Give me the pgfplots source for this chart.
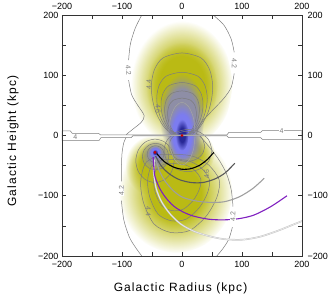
\documentclass[border=0pt]{standalone}
\usepackage{fontspec}
\setmainfont{Liberation Sans}
\newfontfamily\lblfont[LetterSpace=9]{Liberation Sans}
\usepackage{pgfplots}
\pgfplotsset{compat=1.18}
\usetikzlibrary{fadings}
\definecolor{ylw}{RGB}{186,186,20}
\definecolor{gry}{RGB}{142,142,166}
\definecolor{lav}{RGB}{124,124,240}
\definecolor{dkb}{RGB}{40,40,150}
\definecolor{cln}{RGB}{125,125,125}
\definecolor{orbpurple}{RGB}{128,32,192}
\pgfdeclareradialshading{coresh}{\pgfpoint{0bp}{0bp}}{color(0bp)=(white); color(11bp)=(white); color(25bp)=(black); color(50bp)=(black)}
\pgfdeclarefading{core}{\pgfuseshading{coresh}}
\pgfdeclareradialshading{flatsh}{\pgfpoint{0bp}{0bp}}{color(0bp)=(white); color(16bp)=(white); color(25bp)=(black); color(50bp)=(black)}
\pgfdeclarefading{flat}{\pgfuseshading{flatsh}}
\tikzset{lab/.style={font=\fontsize{7}{8}\selectfont, text=cln, inner sep=0.4pt}}
\begin{document}
\begin{tikzpicture}
\pgfplotsset{
  fy/.style={draw=none, smooth, mark=none, fill=ylw, path fading=core, fit fading=true},
  fc/.style={draw=none, smooth, mark=none, path fading=core, fit fading=true},
  ff/.style={draw=none, smooth, mark=none, path fading=flat, fit fading=true},
  cl/.style={draw=cln, line width=0.5pt, smooth, mark=none},
}
\begin{axis}[
  name=ax, at={(0,0)}, anchor=south west, scale only axis,
  width=240pt, height=241pt,
  xmin=-200, xmax=200, ymin=-200, ymax=200,
  xtick={-200,-100,0,100,200}, ytick={-200,-100,0,100,200},
  xticklabels={−200,−100,0,100,200}, yticklabels={−200,−100,0,100,200},
  minor xtick={-150,-50,50,150}, minor ytick={-150,-50,50,150},
  tick align=inside, tick pos=both,
  xticklabel pos=lower, yticklabel pos=left,
  major tick length=4pt, minor tick length=4pt,
  axis line style={black!80, line width=0.7pt},
  tick style={black!80, line width=0.6pt},
  ticklabel style={font=\fontsize{9}{10}\selectfont},
  label style={font=\lblfont\fontsize{12}{14}\selectfont},
  xlabel={Galactic Radius (kpc)}, ylabel={Galactic Height (kpc)},
  xlabel style={at={(axis description cs:0.494,-0.133)}, anchor=center},
  ylabel style={at={(axis description cs:-0.204,0.477)}, anchor=center},
  xticklabel style={yshift=-1.5pt},
  axis on top, clip=true,
]
% ---------- yellow density blobs ----------
\addplot[fy] coordinates {(85,85) (73.6,137.5) (42.5,175.9) (0,190) (-42.5,175.9) (-73.6,137.5) (-85,85) (-73.6,32.5) (-42.5,-5.9) (0,-20) (42.5,-5.9) (73.6,32.5) (85,85)};
\addplot[fy] coordinates {(60,80) (52,117.5) (30,145) (0,155) (-30,145) (-52,117.5) (-60,80) (-52,42.5) (-30,15) (0,5) (30,15) (52,42.5) (60,80)};
\addplot[fy] coordinates {(85,-95) (72.3,-45) (37.5,-8.4) (-10,5) (-57.5,-8.4) (-92.3,-45) (-105,-95) (-92.3,-145) (-57.5,-181.6) (-10,-195) (37.5,-181.6) (72.3,-145) (85,-95)};
\addplot[fy] coordinates {(-5,-50) (-11,-25) (-27.5,-6.7) (-50,0) (-72.5,-6.7) (-89,-25) (-95,-50) (-89,-75) (-72.5,-93.3) (-50,-100) (-27.5,-93.3) (-11,-75) (-5,-50)};
\addplot[fy] coordinates {(55,-30) (49,-10) (32.5,4.6) (10,10) (-12.5,4.6) (-29,-10) (-35,-30) (-29,-50) (-12.5,-64.6) (10,-70) (32.5,-64.6) (49,-50) (55,-30)};
% ---------- gray blobs ----------
\addplot[ff, fill=gry] coordinates {(38,32) (32.9,67) (19,92.6) (0,102) (-19,92.6) (-32.9,67) (-38,32) (-32.9,-3) (-19,-28.6) (0,-38) (19,-28.6) (32.9,-3) (38,32)};
\addplot[fc, fill=gry] coordinates {(-18,-33) (-21.5,-20) (-31,-10.5) (-44,-7) (-57,-10.5) (-66.5,-20) (-70,-33) (-66.5,-46) (-57,-55.5) (-44,-59) (-31,-55.5) (-21.5,-46) (-18,-33)};
\addplot[fc, fill=gry] coordinates {(38,-18) (33.7,-2) (22,9.7) (6,14) (-10,9.7) (-21.7,-2) (-26,-18) (-21.7,-34) (-10,-45.7) (6,-50) (22,-45.7) (33.7,-34) (38,-18)};
% ---------- blue blobs ----------
\addplot[ff, fill=lav] coordinates {(24,3) (20.8,28) (12,46.3) (0,53) (-12,46.3) (-20.8,28) (-24,3) (-20.8,-22) (-12,-40.3) (0,-47) (12,-40.3) (20.8,-22) (24,3)};
\addplot[fc, fill=dkb] coordinates {(11,1) (9.5,14) (5.5,23.5) (0,27) (-5.5,23.5) (-9.5,14) (-11,1) (-9.5,-12) (-5.5,-21.5) (0,-25) (5.5,-21.5) (9.5,-12) (11,1)};
\addplot[ff, fill=lav] coordinates {(-34,-28) (-35.5,-22.5) (-39.5,-18.5) (-45,-17) (-50.5,-18.5) (-54.5,-22.5) (-56,-28) (-54.5,-33.5) (-50.5,-37.5) (-45,-39) (-39.5,-37.5) (-35.5,-33.5) (-34,-28)};
\addplot[fc, fill=dkb] coordinates {(-40,-28) (-40.7,-25.5) (-42.5,-23.7) (-45,-23) (-47.5,-23.7) (-49.3,-25.5) (-50,-28) (-49.3,-30.5) (-47.5,-32.3) (-45,-33) (-42.5,-32.3) (-40.7,-30.5) (-40,-28)};
% ---------- lower region contours ----------
\addplot[cl] coordinates {(-36,-31.5) (-60.5,-45.5) (-68.9,-77) (-64,-112) (-46.5,-147) (-18.5,-161) (13,-157.5) (41,-133) (58.5,-101.5) (62,-73.5) (44.5,-49) (20,-35) (-4.5,-31.5) (-36,-31.5)};
\addplot[cl] coordinates {(-31.5,-39.75) (-50.75,-50.75) (-57.35,-75.5) (-53.5,-103) (-39.75,-130.5) (-17.75,-141.5) (7,-138.75) (29,-119.5) (42.75,-94.75) (45.5,-72.75) (31.75,-53.5) (12.5,-42.5) (-6.75,-39.75) (-31.5,-39.75)};
\addplot[cl] coordinates {(-27.6,-46.9) (-42.3,-55.3) (-47.3,-74.2) (-44.4,-95.2) (-33.9,-116.2) (-17.1,-124.6) (1.8,-122.5) (18.6,-107.8) (29.1,-88.9) (31.2,-72.1) (20.7,-57.4) (6,-49) (-8.7,-46.9) (-27.6,-46.9)};
\addplot[cl] coordinates {(50,-25) (44.6,-7.5) (30,5.3) (10,10) (-10,5.3) (-24.6,-7.5) (-30,-25) (-24.6,-42.5) (-10,-55.3) (10,-60) (30,-55.3) (44.6,-42.5) (50,-25)};
\addplot[cl] coordinates {(-13,-42) (-17.3,-24) (-29,-10.8) (-45,-6) (-61,-10.8) (-72.7,-24) (-77,-42) (-72.7,-60) (-61,-73.2) (-45,-78) (-29,-73.2) (-17.3,-60) (-13,-42)};
\addplot[cl] coordinates {(38,-18) (34,-5.5) (23,3.7) (8,7) (-7,3.7) (-18,-5.5) (-22,-18) (-18,-30.5) (-7,-39.7) (8,-43) (23,-39.7) (34,-30.5) (38,-18)};
\addplot[cl] coordinates {(-22,-35) (-24.9,-24) (-33,-15.9) (-44,-13) (-55,-15.9) (-63.1,-24) (-66,-35) (-63.1,-46) (-55,-54.1) (-44,-57) (-33,-54.1) (-24.9,-46) (-22,-35)};
\addplot[cl] coordinates {(-30,-31) (-31.9,-24) (-37,-18.9) (-44,-17) (-51,-18.9) (-56.1,-24) (-58,-31) (-56.1,-38) (-51,-43.1) (-44,-45) (-37,-43.1) (-31.9,-38) (-30,-31)};
% ---------- upper lobe contours ----------
\addplot[cl] coordinates {(15.3,0) (31.6,16.4) (43.4,38.4) (49.5,61.7) (51,84.9) (45.9,109.6) (31.6,128.8) (0,137) (-31.6,128.8) (-45.9,109.6) (-51,84.9) (-49.5,61.7) (-43.4,38.4) (-31.6,16.4) (-15.3,0)};
\addplot[cl] coordinates {(12.6,0) (26,12.6) (35.7,29.4) (40.7,47.3) (42,65.1) (37.8,84) (26,98.7) (0,105) (-26,98.7) (-37.8,84) (-42,65.1) (-40.7,47.3) (-35.7,29.4) (-26,12.6) (-12.6,0)};
\addplot[cl] coordinates {(10.5,0) (21.7,10.6) (29.8,24.6) (34,39.6) (35,54.6) (31.5,70.4) (21.7,82.7) (0,88) (-21.7,82.7) (-31.5,70.4) (-35,54.6) (-34,39.6) (-29.8,24.6) (-21.7,10.6) (-10.5,0)};
\addplot[cl] coordinates {(8.7,0) (18,8.9) (24.7,20.7) (28.1,33.3) (29,45.9) (26.1,59.2) (18,69.6) (0,74) (-18,69.6) (-26.1,59.2) (-29,45.9) (-28.1,33.3) (-24.7,20.7) (-18,8.9) (-8.7,0)};
\addplot[cl] coordinates {(7.2,0) (14.9,7.4) (20.4,17.4) (23.3,27.9) (24,38.4) (21.6,49.6) (14.9,58.3) (0,62) (-14.9,58.3) (-21.6,49.6) (-24,38.4) (-23.3,27.9) (-20.4,17.4) (-14.9,7.4) (-7.2,0)};
\addplot[cl, draw=cln!70] coordinates {(22,3) (19.1,29) (11,48) (0,55) (-11,48) (-19.1,29) (-22,3) (-19.1,-23) (-11,-42) (0,-49) (11,-42) (19.1,-23) (22,3)};
% ---------- 4.2 contours ----------
\addplot[cl] coordinates {(-67,200) (-78,178) (-86,152) (-89,125)};
\addplot[cl] coordinates {(-89,92) (-84,68) (-75,52) (-63,33) (-68,22) (-80,12) (-90,4) (-93,1)};
\addplot[cl] coordinates {(52,200) (70,183) (82,160) (87,138)};
\addplot[cl] coordinates {(87,103) (82,80) (70,62) (52,43) (35,25) (27,12) (24,2)};
\addplot[cl] coordinates {(-92,-1) (-97,-12) (-100,-30) (-101,-55) (-101,-76)};
\addplot[cl] coordinates {(-101,-108) (-97,-140) (-88,-168) (-78,-185) (-67,-200)};
\addplot[cl] coordinates {(30,-1) (42,-15) (60,-38) (74,-63) (82,-90) (85,-118)};
\addplot[cl] coordinates {(84,-152) (78,-172) (68,-188) (58,-200)};
% ---------- disk band ----------
\addplot[draw=cln, line width=0.5pt, fill=white, mark=none] coordinates {(-200,7.5) (-186,7.5) (-183,3.7) (-139,3.7) (-136,1) (75,1.2) (78,5) (131,5) (134,8) (200,8) (200,-6.5) (134,-6.5) (131,-3.6) (78,-3.6) (75,-0.8) (-82,-0.8) (-85,-3.6) (-135,-3.6) (-138,-8) (-200,-8) (-200,7.5)};
% ---------- orbits ----------
\addplot[smooth, mark=none, draw=gray!45, line width=1.6pt] coordinates {(-46,-40) (-47,-62) (-43,-88) (-34,-110) (-20,-130) (-2,-147) (20,-159) (45,-167) (70,-172) (100,-173) (130,-168) (160,-158) (185,-148) (205,-140)};
\addplot[smooth, mark=none, draw=white!85!gray, line width=0.6pt] coordinates {(-46,-40) (-47,-62) (-43,-88) (-34,-110) (-20,-130) (-2,-147) (20,-159) (45,-167) (70,-172) (100,-173) (130,-168) (160,-158) (185,-148) (205,-140)};
\addplot[smooth, mark=none, draw=orbpurple, line width=1.1pt] coordinates {(-48,-36) (-47,-52) (-45,-68) (-38,-86) (-28,-102) (-14,-117) (2,-127) (20,-134) (45,-139) (70,-140) (95,-138) (120,-132) (148,-118) (175,-100)};
\addplot[smooth, mark=none, draw=gray!75, line width=1.1pt] coordinates {(-44,-38) (-38,-58) (-28,-76) (-14,-92) (0,-102) (20,-108) (45,-111) (70,-110) (95,-102) (118,-88) (137,-71)};
\addplot[smooth, mark=none, draw=black!65, line width=1.1pt] coordinates {(-44,-34) (-35,-50) (-22,-63) (-5,-73) (15,-78) (35,-78) (55,-72) (72,-62) (88,-46)};
\addplot[smooth, mark=none, draw=black, line width=1.1pt] coordinates {(-42,-30) (-30,-43) (-15,-52) (0,-56) (15,-55) (30,-49) (42,-40) (53,-28)};
% ---------- centres ----------
\addplot[only marks, mark=*, mark size=1.1pt, mark options={draw=red!80!black, fill=red!80!black}] coordinates {(0,0) (-45,-28)};
% ---------- contour labels ----------
\node[lab, rotate=-85, fill=white] at (axis cs:-89,108) {4.2};
\node[lab, rotate=-90, fill=white] at (axis cs:87,120) {4.2};
\node[lab, rotate=90, fill=white] at (axis cs:-101,-92) {4.2};
\node[lab, rotate=90, fill=white] at (axis cs:85,-135) {4.2};
\node[lab, rotate=90] at (axis cs:-55,84) {4.4};
\node[lab, rotate=-90] at (axis cs:-40,44) {4.6};
\node[lab, rotate=-90] at (axis cs:-56,-126) {4.4};
\node[lab, rotate=90] at (axis cs:41,-64) {4.6};
\node[lab, fill=white] at (axis cs:-178,-3) {4};
\node[lab, fill=white] at (axis cs:166,8) {4};
\end{axis}
\begin{axis}[
  at={(0,0)}, anchor=south west, scale only axis,
  width=240pt, height=241pt,
  xmin=-200, xmax=200, ymin=-200, ymax=200,
  xtick={-200,-100,0,100,200}, ytick={-200,-100,0,100,200},
  xticklabels={−200,−100,0,100,200}, yticklabels={−200,−100,0,100,200},
  tick pos=both, xticklabel pos=upper, yticklabel pos=right,
  axis line style={draw=none}, tick style={draw=none},
  ticklabel style={font=\fontsize{9}{10}\selectfont},
  xticklabel style={yshift=1.5pt}, yticklabel style={xshift=2pt},
]
\end{axis}
\pgfresetboundingbox
\path[use as bounding box] (-62pt,-45pt) rectangle (273pt,256pt);
\end{tikzpicture}
\end{document}
